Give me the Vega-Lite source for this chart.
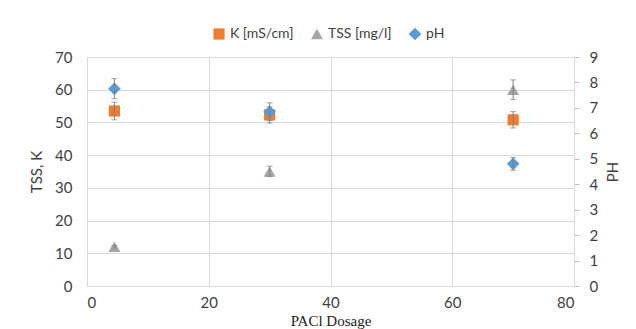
{
  "$schema": "https://vega.github.io/schema/vega-lite/v6.json",
  "width": 487,
  "height": 229,
  "autosize": "none",
  "padding": {"left": 87, "top": 57, "right": 62, "bottom": 43},
  "background": "white",
  "config": {
    "view": {"stroke": null},
    "font": "Lato",
    "axis": {"labelFont": "Lato", "labelFontSize": 15, "labelColor": "#404040", "titleFont": "Lato", "titleFontSize": 15, "titleFontWeight": "normal", "titleColor": "#404040", "gridColor": "#d9d9d9", "domainColor": "#d9d9d9", "tickColor": "#bfbfbf", "labelOverlap": false},
    "legend": {"labelFont": "Lato", "labelFontSize": 14, "labelColor": "#404040"}
  },
  "data": {
    "values": [
      {"dosage": 4.5, "series": "K [mS/cm]", "value": 53.5, "lo": 50.8, "hi": 56.2},
      {"dosage": 30, "series": "K [mS/cm]", "value": 52.3, "lo": 49.8, "hi": 54.8},
      {"dosage": 70, "series": "K [mS/cm]", "value": 50.8, "lo": 48.3, "hi": 53.3},
      {"dosage": 4.5, "series": "TSS [mg/l]", "value": 12, "lo": 11.6, "hi": 12.4},
      {"dosage": 30, "series": "TSS [mg/l]", "value": 35, "lo": 33.5, "hi": 36.6},
      {"dosage": 70, "series": "TSS [mg/l]", "value": 60, "lo": 57, "hi": 63},
      {"dosage": 4.5, "series": "pH", "value": 7.75, "lo": 7.36, "hi": 8.15},
      {"dosage": 30, "series": "pH", "value": 6.85, "lo": 6.5, "hi": 7.2},
      {"dosage": 70, "series": "pH", "value": 4.8, "lo": 4.55, "hi": 5.05}
    ]
  },
  "encoding": {
    "x": {"field": "dosage", "type": "quantitative", "scale": {"domain": [0, 80], "nice": false},
      "axis": {"values": [0, 20, 40, 60, 80], "title": "PACl Dosage", "titleFont": "Liberation Serif", "titleFontSize": 15, "titleColor": "#222222", "ticks": false, "labelPadding": 9, "titlePadding": 3, "grid": true}}
  },
  "layer": [
    {
      "transform": [{"filter": "datum.series !== 'pH'"}],
      "layer": [
        {
          "mark": {"type": "point", "filled": true, "opacity": 1},
          "encoding": {
            "y": {"field": "value", "type": "quantitative", "scale": {"domain": [0, 70], "nice": false}, "axis": {"values": [0, 10, 20, 30, 40, 50, 60, 70], "title": "TSS, K", "grid": true, "ticks": false, "labelPadding": 15, "titlePadding": 10, "orient": "left"}},
            "color": {"field": "series", "type": "nominal", "title": null, "scale": {"domain": ["K [mS/cm]", "TSS [mg/l]", "pH"], "range": ["#ED7D31", "#A5A5A5", "#5B9BD5"]},
              "legend": {"orient": "none", "legendX": 125, "legendY": -30, "direction": "horizontal", "symbolSize": 110, "columnPadding": 16, "labelOffset": 4, "symbolStrokeWidth": 0}},
            "shape": {"field": "series", "type": "nominal", "title": null, "scale": {"domain": ["K [mS/cm]", "TSS [mg/l]", "pH"], "range": ["square", "triangle-up", "diamond"]}},
            "size": {"field": "series", "type": "nominal", "scale": {"domain": ["K [mS/cm]", "TSS [mg/l]", "pH"], "range": [125, 160, 115]}, "legend": null}
          }
        },
        {
          "mark": {"type": "rule", "color": "#7f7f7f", "strokeWidth": 1},
          "encoding": {
            "y": {"field": "lo", "type": "quantitative", "scale": {"domain": [0, 70], "nice": false}, "axis": {"values": [0, 10, 20, 30, 40, 50, 60, 70], "title": "TSS, K", "grid": true, "ticks": false, "labelPadding": 15, "titlePadding": 10, "orient": "left"}},
            "y2": {"field": "hi"}
          }
        },
        {
          "mark": {"type": "tick", "orient": "horizontal", "color": "#7f7f7f", "size": 6, "thickness": 1},
          "encoding": {"y": {"field": "lo", "type": "quantitative", "scale": {"domain": [0, 70], "nice": false}, "axis": {"values": [0, 10, 20, 30, 40, 50, 60, 70], "title": "TSS, K", "grid": true, "ticks": false, "labelPadding": 15, "titlePadding": 10, "orient": "left"}}}
        },
        {
          "mark": {"type": "tick", "orient": "horizontal", "color": "#7f7f7f", "size": 6, "thickness": 1},
          "encoding": {"y": {"field": "hi", "type": "quantitative", "scale": {"domain": [0, 70], "nice": false}, "axis": {"values": [0, 10, 20, 30, 40, 50, 60, 70], "title": "TSS, K", "grid": true, "ticks": false, "labelPadding": 15, "titlePadding": 10, "orient": "left"}}}
        }
      ]
    },
    {
      "transform": [{"filter": "datum.series === 'pH'"}],
      "layer": [
        {
          "mark": {"type": "point", "filled": true, "opacity": 1},
          "encoding": {
            "y": {"field": "value", "type": "quantitative", "scale": {"domain": [0, 9], "nice": false}, "axis": {"orient": "right", "values": [0, 1, 2, 3, 4, 5, 6, 7, 8, 9], "title": "PH", "titleAngle": 270, "titleBaseline": "top", "grid": false, "ticks": true, "tickSize": 5, "labelPadding": 10, "titlePadding": 8}},
            "color": {"field": "series", "type": "nominal", "title": null, "scale": {"domain": ["K [mS/cm]", "TSS [mg/l]", "pH"], "range": ["#ED7D31", "#A5A5A5", "#5B9BD5"]}},
            "shape": {"field": "series", "type": "nominal", "title": null, "scale": {"domain": ["K [mS/cm]", "TSS [mg/l]", "pH"], "range": ["square", "triangle-up", "diamond"]}},
            "size": {"field": "series", "type": "nominal", "scale": {"domain": ["K [mS/cm]", "TSS [mg/l]", "pH"], "range": [125, 160, 115]}, "legend": null}
          }
        },
        {
          "mark": {"type": "rule", "color": "#7f7f7f", "strokeWidth": 1},
          "encoding": {
            "y": {"field": "lo", "type": "quantitative", "scale": {"domain": [0, 9], "nice": false}, "axis": {"orient": "right", "values": [0, 1, 2, 3, 4, 5, 6, 7, 8, 9], "title": "PH", "titleAngle": 270, "titleBaseline": "top", "grid": false, "ticks": true, "tickSize": 5, "labelPadding": 10, "titlePadding": 8}},
            "y2": {"field": "hi"}
          }
        },
        {
          "mark": {"type": "tick", "orient": "horizontal", "color": "#7f7f7f", "size": 6, "thickness": 1},
          "encoding": {"y": {"field": "lo", "type": "quantitative", "scale": {"domain": [0, 9], "nice": false}, "axis": {"orient": "right", "values": [0, 1, 2, 3, 4, 5, 6, 7, 8, 9], "title": "PH", "titleAngle": 270, "titleBaseline": "top", "grid": false, "ticks": true, "tickSize": 5, "labelPadding": 10, "titlePadding": 8}}}
        },
        {
          "mark": {"type": "tick", "orient": "horizontal", "color": "#7f7f7f", "size": 6, "thickness": 1},
          "encoding": {"y": {"field": "hi", "type": "quantitative", "scale": {"domain": [0, 9], "nice": false}, "axis": {"orient": "right", "values": [0, 1, 2, 3, 4, 5, 6, 7, 8, 9], "title": "PH", "titleAngle": 270, "titleBaseline": "top", "grid": false, "ticks": true, "tickSize": 5, "labelPadding": 10, "titlePadding": 8}}}
        }
      ]
    }
  ],
  "resolve": {"scale": {"y": "independent"}}
}
